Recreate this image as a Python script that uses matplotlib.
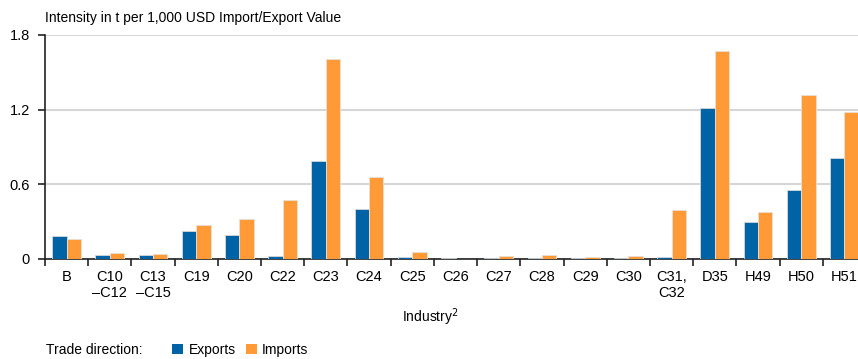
import numpy as np
import matplotlib.pyplot as plt
from matplotlib.patches import Patch

plt.rcParams['font.family'] = ['Liberation Sans', 'DejaVu Sans']

# industries and intensities (t per 1,000 USD)
industries = ['B', 'C10\n–C12', 'C13\n–C15', 'C19', 'C20', 'C22', 'C23', 'C24',
              'C25', 'C26', 'C27', 'C28', 'C29', 'C30', 'C31,\nC32', 'D35',
              'H49', 'H50', 'H51']
exports = [0.185, 0.035, 0.030, 0.225, 0.193, 0.027, 0.787, 0.404,
           0.016, 0.005, 0.010, 0.006, 0.008, 0.008, 0.016, 1.213,
           0.295, 0.552, 0.811]
imports = [0.158, 0.048, 0.040, 0.275, 0.319, 0.474, 1.606, 0.658,
           0.056, 0.004, 0.022, 0.030, 0.013, 0.024, 0.390, 1.670,
           0.375, 1.315, 1.180]

blue = '#0063a6'
orange = '#ff9a36'

fig = plt.figure(figsize=(8.58, 3.59), dpi=100)
# axes runs a bit past the right edge, like the original
ax = fig.add_axes([45/858, 1 - 259/359, 821/858, 224/359])

x = np.arange(len(industries))
w = 0.333
ax.bar(x - w/2, exports, w, color=blue, edgecolor='#d8d8d8', linewidth=0.6, zorder=3)
ax.bar(x + w/2, imports, w, color=orange, edgecolor='#e8e0d8', linewidth=0.6, zorder=3)

ax.set_xlim(-0.5, len(industries) - 0.5)
ax.set_ylim(0, 1.8)
ax.set_yticks([0, 0.6, 1.2, 1.8])
ax.set_yticklabels(['0', '0.6', '1.2', '1.8'], fontsize=10.5)
ax.yaxis.grid(True, color='#d6d6d6', linewidth=1.5, zorder=0)
ax.set_axisbelow(True)

ax.set_xticks(x)
ax.set_xticklabels(industries, fontsize=10.5, linespacing=1.2)
ax.tick_params(axis='x', length=0, pad=8)
ax.set_xticks(np.arange(-0.5, len(industries)), minor=True)
ax.tick_params(axis='x', which='minor', length=5, width=1.2, color='#222222')
ax.tick_params(axis='y', length=5, width=1.2, color='#222222', pad=6)

for s in ['top', 'right']:
    ax.spines[s].set_visible(False)
for s in ['left', 'bottom']:
    ax.spines[s].set_linewidth(1.2)
    ax.spines[s].set_color('#222222')

fig.text(45/858, 1 - 18/359, 'Intensity in t per 1,000 USD Import/Export Value',
         fontsize=10, va='center', ha='left')
fig.text(430/858, 1 - 317/359, 'Industry$^{2}$', fontsize=10, va='center', ha='center')

fig.text(46/858, 1 - 350/359, 'Trade direction:', fontsize=10, va='center', ha='left')
handles = [Patch(facecolor=blue, label='Exports'), Patch(facecolor=orange, label='Imports')]
fig.legend(handles=handles, loc='center left', bbox_to_anchor=(172/858, 1 - 350/359),
           ncol=2, frameon=False, fontsize=10, handlelength=0.8, handleheight=0.8,
           handletextpad=0.4, columnspacing=0.7, borderpad=0, borderaxespad=0)

fig.savefig('out.png', dpi=100)
